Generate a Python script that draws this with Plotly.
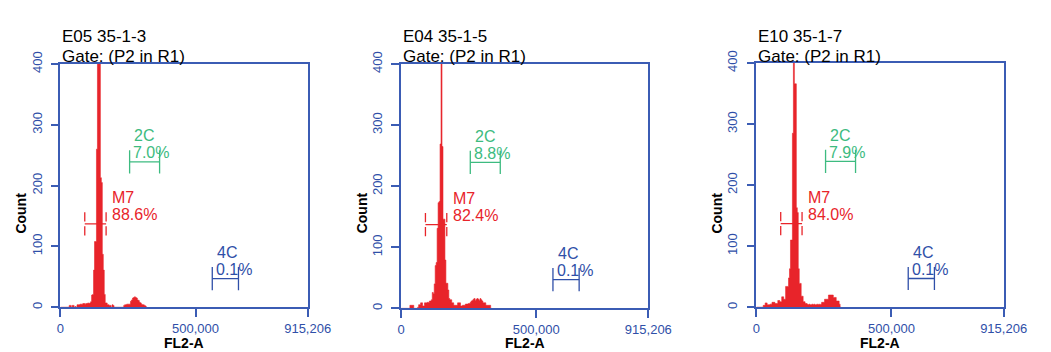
import plotly.graph_objects as go

# ---------------- data ----------------
panel_names = ["E05 35-1-3", "E04 35-1-5", "E10 35-1-7"]
gate_label = "Gate: (P2 in R1)"

x_max = 915206
bin_width = 3603  # FL2-A channel width (approx. 254 channels over full scale)

counts_p1 = [0, 0, 0, 0, 0, 0, 0, 0, 0,
             3, 3, 0, 3, 3, 0, 1, 0,
             4, 4, 4, 5, 5, 5, 6, 6, 5, 6, 6, 7, 6, 7, 9,
             20, 21, 61, 108, 108, 260, 480, 520, 470, 213, 205, 87, 61, 21,
             7, 7, 4, 4, 3, 3, 0, 4, 3, 0,
             0, 0, 0, 0, 0, 0, 0, 0, 0,
             3, 4, 4, 5, 5, 5, 5, 10, 12, 15, 16, 17, 16, 15, 12, 11, 8, 7, 5, 4, 4, 3, 2, 0]

counts_p2 = [0, 0, 0, 0, 0, 0, 0, 0, 0,
             5, 5, 5, 5, 0, 0, 0, 0, 2, 6, 6, 9, 9, 4, 4, 9, 9, 9, 10, 9, 12, 12, 14,
             26, 24, 40, 70, 75, 131, 173, 175, 269, 520, 265, 146, 146, 79, 41, 41, 30, 16,
             14, 14, 9, 9, 5, 5, 5, 5, 9, 9, 9, 4, 4, 5, 5, 5, 7, 7, 7, 8, 8,
             10, 12, 13, 15, 16, 13, 15, 16, 15, 13, 16, 14, 12, 9, 9, 9, 5, 5, 5, 5, 5, 0]

counts_p3 = [0, 0, 0, 0, 0, 0, 0,
             3, 3, 7, 7, 4, 4, 4, 5, 5, 8, 8, 8, 6, 6, 6, 11, 11, 9, 9, 17, 17, 13, 13,
             34, 34, 34, 48, 63, 110, 110, 285, 520, 366, 366, 163, 155, 63, 39, 39, 18, 18,
             9, 9, 6, 6, 5, 4, 5, 4, 4, 5, 4, 5, 4, 4, 5, 4, 5, 4, 5,
             8, 8, 8, 13, 13, 13, 13, 20, 20, 20, 20, 20, 16, 16, 16, 10, 10, 10, 5, 0]

all_counts = [counts_p1, counts_p2, counts_p3]

x_tick_vals = [0, 500000, 915206]
x_tick_text = ["0", "500,000", "915,206"]
y_tick_vals = [0, 100, 200, 300, 400]

marker_names = ["M7", "2C", "4C"]
marker_lo = [90000, 256000, 562000]
marker_hi = [169000, 367000, 659000]
marker_level = [137, 239, 47]
marker_pct = [["88.6%", "7.0%", "0.1%"],
              ["82.4%", "8.8%", "0.1%"],
              ["84.0%", "7.9%", "0.1%"]]

# ---------------- style ----------------
W, H = 1051, 352
RED = "#e8242a"
BLUE = "#3b5cb4"
BLUE_TXT = "#2f4fa8"
GREEN = "#3dbb80"
marker_colors = [RED, GREEN, BLUE_TXT]
FONT = "Liberation Sans, Arial, sans-serif"

# panel boxes in pixels: (left, right, top, bottom)
boxes = [(58, 312, 53.3, 307.3), (408, 662, 53.3, 308.5), (773, 1027, 52.3, 307.3)]

fig = go.Figure()
annotations = []
shapes = []

for p in range(3):
    L, R, T, B = boxes[p]
    sfx = "" if p == 0 else str(p + 1)
    xa, ya = "x" + sfx, "y" + sfx
    counts = all_counts[p]
    edges = [i * bin_width for i in range(len(counts) + 1)]
    fig.add_trace(go.Scatter(
        x=edges, y=counts + [0], mode="lines", line=dict(shape="hv", color=RED, width=0.6),
        fill="tozeroy", fillcolor=RED, xaxis=xa, yaxis=ya, showlegend=False, hoverinfo="skip"))

    axis_common = dict(showline=True, mirror=True, linecolor=BLUE, linewidth=1.5,
                       ticks="outside", ticklen=8, tickcolor=BLUE, tickwidth=1.5,
                       showgrid=False, zeroline=False,
                       tickfont=dict(family=FONT, size=13, color=BLUE_TXT))
    fig.update_layout(**{
        "xaxis" + sfx: dict(domain=[L / W, R / W], range=[0, x_max], anchor=ya,
                            tickvals=x_tick_vals, ticktext=x_tick_text, tickangle=0,
                            ticklabelstandoff=0, **axis_common),
        "yaxis" + sfx: dict(domain=[(H - B) / H, (H - T) / H], range=[0, 400], anchor=xa,
                            tickvals=y_tick_vals, tickangle=-90, ticklabelstandoff=4,
                            **axis_common),
    })

    # titles
    annotations.append(dict(text=panel_names[p], x=L / W, y=(H - 24.5) / H, xref="paper", yref="paper",
                            xanchor="left", yanchor="middle", showarrow=False,
                            font=dict(family=FONT, size=17, color="black")))
    annotations.append(dict(text=gate_label, x=L / W, y=(H - 45.5) / H, xref="paper", yref="paper",
                            xanchor="left", yanchor="middle", showarrow=False,
                            font=dict(family=FONT, size=17, color="black")))
    # axis titles
    annotations.append(dict(text="<b>FL2-A</b>", x=(L + R) / 2 / W, y=(H - 344.5) / H, xref="paper",
                            yref="paper", xanchor="center", yanchor="middle", showarrow=False,
                            font=dict(family=FONT, size=14, color="black")))
    annotations.append(dict(text="<b>Count</b>", x=(L - 40) / W, y=(H - 209) / H, xref="paper",
                            yref="paper", xanchor="center", yanchor="middle", showarrow=False,
                            textangle=-90, font=dict(family=FONT, size=14, color="black")))

    # range markers
    tick_half = 19
    for m in range(3):
        c = marker_colors[m]
        lo, hi, lv = marker_lo[m], marker_hi[m], marker_level[m]
        shapes.append(dict(type="line", xref=xa, yref=ya, x0=lo, x1=hi, y0=lv, y1=lv,
                           line=dict(color=c, width=1.3)))
        for xe in (lo, hi):
            if m == 0:
                shapes.append(dict(type="line", xref=xa, yref=ya, x0=xe, x1=xe, y0=lv + 4,
                                   y1=lv + tick_half, line=dict(color=c, width=1.3)))
                shapes.append(dict(type="line", xref=xa, yref=ya, x0=xe, x1=xe, y0=lv - tick_half,
                                   y1=lv - 4, line=dict(color=c, width=1.3)))
            else:
                shapes.append(dict(type="line", xref=xa, yref=ya, x0=xe, x1=xe, y0=lv - tick_half,
                                   y1=lv + tick_half, line=dict(color=c, width=1.3)))
        tx = hi + 14000 if m == 0 else lo + 6000
        annotations.append(dict(text=marker_names[m], x=tx + (0 if m == 0 else 4000), y=lv + 43,
                                xref=xa, yref=ya, xanchor="left", yanchor="middle", showarrow=False,
                                font=dict(family=FONT, size=16, color=c)))
        annotations.append(dict(text=marker_pct[p][m], x=tx, y=lv + 15,
                                xref=xa, yref=ya, xanchor="left", yanchor="middle", showarrow=False,
                                font=dict(family=FONT, size=16, color=c)))

fig.update_layout(width=W, height=H, margin=dict(l=0, r=0, t=0, b=0),
                  paper_bgcolor="white", plot_bgcolor="white",
                  annotations=annotations, shapes=shapes, showlegend=False)

fig.write_html("out.html")
